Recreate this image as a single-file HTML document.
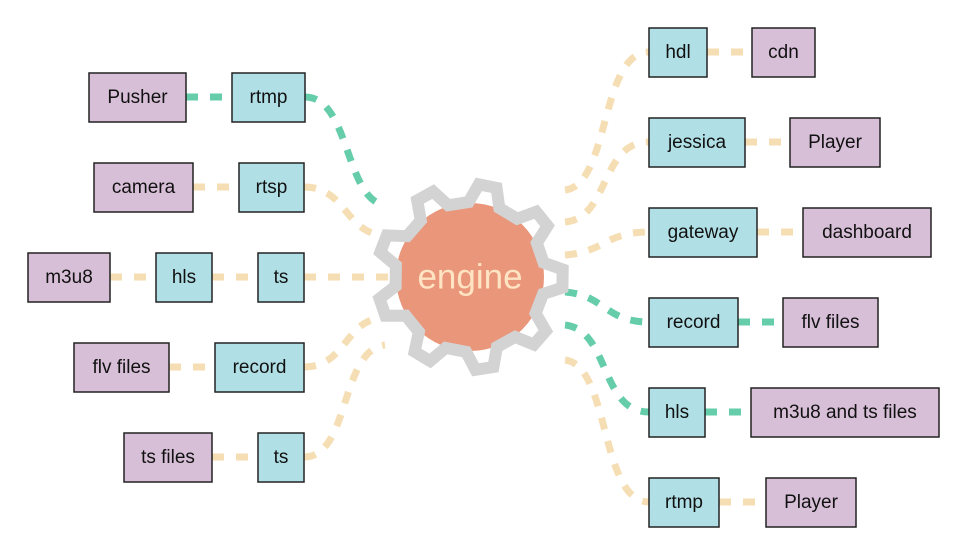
<!DOCTYPE html>
<html><head><meta charset="utf-8"><style>
body{margin:0;background:#fff;}
svg{display:block}
text{font-family:"Liberation Sans",sans-serif;font-size:19px;fill:#111;text-anchor:middle;dominant-baseline:central}
.p{fill:#d8bfd8;stroke:#222;stroke-width:1.5}
.b{fill:#b0e0e6;stroke:#222;stroke-width:1.5}
.g{fill:none;stroke:#66cdaa;stroke-width:7;stroke-dasharray:12 12}
.w{fill:none;stroke:#f5deb3;stroke-width:7;stroke-dasharray:12 12}
</style></head><body>
<svg width="969" height="556" viewBox="0 0 969 556" xmlns="http://www.w3.org/2000/svg">
<path class="g" d="M186 97 H232"/>
<path class="g" d="M305 97 C350 97,345 200,385 205"/>
<path class="w" d="M193 187 H239"/>
<path class="w" d="M304 187 C345 187,345 230,380 235"/>
<path class="w" d="M110 277 H156"/><path class="w" d="M212 277 H258"/>
<path class="w" d="M304 277 H392"/>
<path class="w" d="M169 367 H215"/>
<path class="w" d="M304 367 C345 367,345 322,380 318"/>
<path class="w" d="M212 457 H258"/>
<path class="w" d="M304 457 C350 457,340 350,385 345"/>
<path class="w" d="M565 190 C610 185,600 52,649 52"/><path class="w" d="M707 52 H752"/>
<path class="w" d="M565 222 C610 218,600 142,649 142"/><path class="w" d="M745 142 H790"/>
<path class="w" d="M565 255 C605 252,605 232,649 232"/><path class="w" d="M757 232 H803"/>
<path class="g" d="M565 292 C605 295,605 322,649 322"/><path class="g" d="M738 322 H783"/>
<path class="g" d="M565 325 C610 330,600 412,649 412"/><path class="g" d="M705 412 H751"/>
<path class="w" d="M565 360 C610 365,600 502,649 502"/><path class="w" d="M719 502 H766"/>
<circle cx="470" cy="277" r="74" fill="#e9967a"/>
<path id="gear" fill="none" stroke="#d3d3d3" stroke-width="12" stroke-linejoin="miter"/>
<text x="470" y="277" style="font-size:35px;fill:#ffe4c4">engine</text>
<rect class="p" x="89" y="73" width="97" height="49"/><text x="137.5" y="97.5">Pusher</text>
<rect class="b" x="232" y="73" width="73" height="49"/><text x="268.5" y="97.5">rtmp</text>
<rect class="p" x="94" y="163" width="99" height="49"/><text x="143.5" y="187.5">camera</text>
<rect class="b" x="239" y="163" width="65" height="49"/><text x="271.5" y="187.5">rtsp</text>
<rect class="p" x="28" y="253" width="82" height="49"/><text x="69" y="277.5">m3u8</text>
<rect class="b" x="156" y="253" width="56" height="49"/><text x="184" y="277.5">hls</text>
<rect class="b" x="258" y="253" width="46" height="49"/><text x="281" y="277.5">ts</text>
<rect class="p" x="74" y="343" width="95" height="49"/><text x="121.5" y="367.5">flv files</text>
<rect class="b" x="215" y="343" width="89" height="49"/><text x="259.5" y="367.5">record</text>
<rect class="p" x="124" y="433" width="88" height="49"/><text x="168" y="457.5">ts files</text>
<rect class="b" x="258" y="433" width="46" height="49"/><text x="281" y="457.5">ts</text>
<rect class="b" x="649" y="28" width="58" height="49"/><text x="678" y="52.5">hdl</text>
<rect class="p" x="752" y="28" width="63" height="49"/><text x="783.5" y="52.5">cdn</text>
<rect class="b" x="649" y="118" width="96" height="49"/><text x="697" y="142.5">jessica</text>
<rect class="p" x="790" y="118" width="90" height="49"/><text x="835" y="142.5">Player</text>
<rect class="b" x="649" y="208" width="108" height="49"/><text x="703" y="232.5">gateway</text>
<rect class="p" x="803" y="208" width="128" height="49"/><text x="867" y="232.5">dashboard</text>
<rect class="b" x="649" y="298" width="89" height="49"/><text x="693.5" y="322.5">record</text>
<rect class="p" x="783" y="298" width="95" height="49"/><text x="830.5" y="322.5">flv files</text>
<rect class="b" x="649" y="388" width="56" height="49"/><text x="677" y="412.5">hls</text>
<rect class="p" x="751" y="388" width="188" height="49"/><text x="845" y="412.5">m3u8 and ts files</text>
<rect class="b" x="649" y="478" width="70" height="49"/><text x="684" y="502.5">rtmp</text>
<rect class="p" x="766" y="478" width="90" height="49"/><text x="811" y="502.5">Player</text>
</svg>
<script>
(function(){
var cx=470,cy=277,n=9,Ro=93,Ri=75,d="";
for(var i=0;i<n;i++){
 var s=2*Math.PI/n, a=i*s-79*Math.PI/180;
 var pts=[[Ri,a-s*0.3],[Ro,a-s*0.14],[Ro,a+s*0.14],[Ri,a+s*0.3]];
 pts.forEach(function(p,j){
  var x=cx+p[0]*Math.cos(p[1]),y=cy+p[0]*Math.sin(p[1]);
  d+=(i==0&&j==0?"M":"L")+x.toFixed(1)+" "+y.toFixed(1)+" ";
 });
}
document.getElementById("gear").setAttribute("d",d+"Z");
})();
</script>
</body></html>
